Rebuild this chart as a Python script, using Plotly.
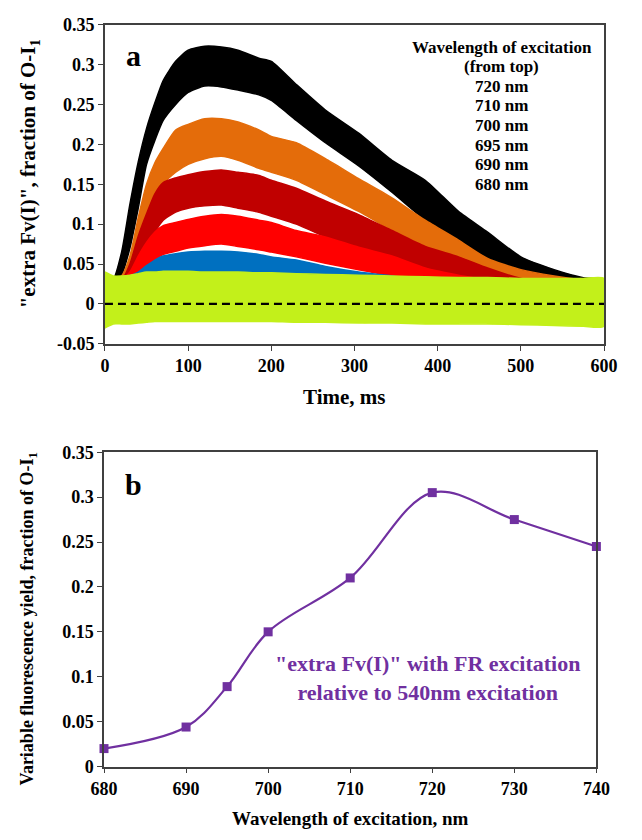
import plotly.graph_objects as go

# ---------------- Panel a: extra Fv(I) transients (envelope of the noisy traces) ----------------
time_ms = [0, 10, 20, 30, 40, 50, 60, 70, 85, 100, 120, 140, 160, 185, 200,
           230, 265, 305, 345, 385, 425, 460, 500, 540, 575, 600]

# 720 nm
fv720_hi = [0.02, 0.03, 0.065, 0.125, 0.178, 0.22, 0.252, 0.28, 0.304, 0.318, 0.323, 0.322, 0.318,
            0.308, 0.304, 0.275, 0.243, 0.214, 0.18, 0.155, 0.116, 0.09, 0.059, 0.043, 0.033, 0.03]
fv720_lo = [-0.03, 0.01, 0.035, 0.07, 0.12, 0.175, 0.205, 0.23, 0.25, 0.265, 0.273, 0.272, 0.268,
            0.262, 0.255, 0.23, 0.202, 0.173, 0.14, 0.105, 0.075, 0.053, 0.035, 0.025, 0.02, 0.02]
# 710 nm
fv710_hi = [0.02, 0.03, 0.035, 0.06, 0.108, 0.15, 0.177, 0.195, 0.218, 0.225, 0.232, 0.232, 0.228,
            0.218, 0.21, 0.202, 0.182, 0.157, 0.133, 0.105, 0.08, 0.057, 0.043, 0.035, 0.03, 0.028]
fv710_lo = [-0.02, 0.01, 0.02, 0.04, 0.065, 0.10, 0.13, 0.15, 0.165, 0.175, 0.182, 0.185, 0.18,
            0.17, 0.165, 0.155, 0.137, 0.116, 0.092, 0.068, 0.05, 0.04, 0.03, 0.025, 0.02, 0.02]
# 700 nm
fv700_hi = [0.02, 0.03, 0.03, 0.05, 0.085, 0.113, 0.138, 0.152, 0.158, 0.162, 0.166, 0.168, 0.165,
            0.161, 0.155, 0.145, 0.129, 0.112, 0.092, 0.072, 0.059, 0.045, 0.032, 0.028, 0.026, 0.025]
fv700_lo = [-0.03, 0.0, 0.02, 0.03, 0.05, 0.07, 0.09, 0.105, 0.115, 0.12, 0.123, 0.124, 0.12,
            0.115, 0.11, 0.1, 0.084, 0.067, 0.052, 0.039, 0.03, 0.02, 0.015, 0.01, 0.01, 0.01]
# 695 nm
fv695_hi = [0.02, 0.03, 0.03, 0.04, 0.06, 0.077, 0.09, 0.098, 0.102, 0.106, 0.11, 0.112, 0.11,
            0.105, 0.102, 0.092, 0.084, 0.071, 0.06, 0.045, 0.036, 0.03, 0.022, 0.02, 0.018, 0.018]
fv695_lo = [-0.02, 0.0, 0.015, 0.025, 0.035, 0.045, 0.055, 0.062, 0.066, 0.07, 0.073, 0.075, 0.072,
            0.068, 0.065, 0.059, 0.051, 0.043, 0.035, 0.025, 0.015, 0.01, 0.005, 0.005, 0.005, 0.005]
# 690 nm
fv690_hi = [0.02, 0.025, 0.03, 0.035, 0.04, 0.048, 0.055, 0.06, 0.063, 0.065, 0.066, 0.066, 0.065,
            0.062, 0.059, 0.055, 0.047, 0.04, 0.035, 0.03, 0.028, 0.025, 0.022, 0.02, 0.02, 0.02]
fv690_lo = [-0.02, -0.018, -0.018, -0.018, -0.017, -0.016, -0.015, -0.015, -0.015, -0.015, -0.015,
            -0.015, -0.015, -0.015, -0.015, -0.016, -0.016, -0.017, -0.017, -0.018, -0.018, -0.02,
            -0.022, -0.022, -0.022, -0.022]
# 680 nm
fv680_hi = [0.04, 0.035, 0.035, 0.036, 0.038, 0.04, 0.04, 0.041, 0.041, 0.041, 0.04, 0.04, 0.04,
            0.039, 0.039, 0.038, 0.037, 0.036, 0.035, 0.034, 0.033, 0.033, 0.032, 0.032, 0.032, 0.032]
fv680_lo = [-0.03, -0.025, -0.025, -0.025, -0.024, -0.023, -0.022, -0.022, -0.022, -0.022, -0.022,
            -0.022, -0.022, -0.022, -0.022, -0.023, -0.023, -0.024, -0.024, -0.025, -0.025, -0.025,
            -0.026, -0.027, -0.028, -0.028]

wavelength_names = ["720 nm", "710 nm", "700 nm", "695 nm", "690 nm", "680 nm"]
trace_colors = ["#000000", "#E46C0A", "#C00000", "#FF0000", "#0070C0", "#C3F01A"]
bands = [(fv720_hi, fv720_lo), (fv710_hi, fv710_lo), (fv700_hi, fv700_lo),
         (fv695_hi, fv695_lo), (fv690_hi, fv690_lo), (fv680_hi, fv680_lo)]
key_lines = ["Wavelength of excitation", "(from top)"] + wavelength_names

# ---------------- Panel b: amplitude vs. excitation wavelength ----------------
excitation_nm = [680, 690, 695, 700, 710, 720, 730, 740]
extra_fv = [0.02, 0.044, 0.089, 0.15, 0.21, 0.305, 0.275, 0.245]

top_yticks = [-0.05, 0, 0.05, 0.1, 0.15, 0.2, 0.25, 0.3, 0.35]
top_yticktext = ["-0.05", "0", "0.05", "0.1", "0.15", "0.2", "0.25", "0.3", "0.35"]
top_xticks = [0, 100, 200, 300, 400, 500, 600]
bot_yticks = [0, 0.05, 0.1, 0.15, 0.2, 0.25, 0.3, 0.35]
bot_yticktext = ["0", "0.05", "0.1", "0.15", "0.2", "0.25", "0.3", "0.35"]
bot_xticks = [680, 690, 700, 710, 720, 730, 740]

W, H = 642, 840
SERIF = "Liberation Serif"
PURPLE = "#7030A0"
AXIS = "#404040"

fig = go.Figure()

for name, color, (hi, lo) in zip(wavelength_names, trace_colors, bands):
    fig.add_trace(go.Scatter(
        x=time_ms + time_ms[::-1], y=hi + lo[::-1],
        mode="lines", fill="toself", fillcolor=color,
        line=dict(color=color, width=1.5, shape="spline", smoothing=0.6), name=name,
        xaxis="x", yaxis="y", hoverinfo="skip", showlegend=False))

# dashed zero baseline
fig.add_trace(go.Scatter(
    x=[time_ms[0], time_ms[-1]], y=[0, 0], mode="lines",
    line=dict(color="black", width=2.2, dash="8px,5px"),
    xaxis="x", yaxis="y", showlegend=False, hoverinfo="skip"))

fig.add_trace(go.Scatter(
    x=excitation_nm, y=extra_fv, mode="lines+markers",
    line=dict(color=PURPLE, width=2.2, shape="spline", smoothing=1.0),
    marker=dict(symbol="square", size=9, color=PURPLE),
    xaxis="x2", yaxis="y2", showlegend=False, cliponaxis=False))


def px_x(p):
    return p / W


def px_y(p):
    return 1 - p / H


tick_font = dict(family=SERIF, size=18, color="black", weight="bold")
axis_common = dict(showline=True, linecolor=AXIS, linewidth=1.5, mirror=True,
                   ticks="outside", ticklen=5, tickcolor=AXIS, tickwidth=1,
                   showgrid=False, zeroline=False, tickfont=tick_font)

fig.update_layout(
    width=W, height=H, margin=dict(l=0, r=0, t=0, b=0),
    paper_bgcolor="white", plot_bgcolor="white",
    xaxis=dict(domain=[px_x(96), px_x(617)], range=[0, 600],
               tickvals=top_xticks, anchor="y", **axis_common),
    yaxis=dict(domain=[px_y(342), px_y(15)], range=[-0.05, 0.35],
               tickvals=top_yticks, ticktext=top_yticktext, anchor="x", **axis_common),
    xaxis2=dict(domain=[px_x(95), px_x(609)], range=[680, 740],
                tickvals=bot_xticks, anchor="y2", **axis_common),
    yaxis2=dict(domain=[px_y(775), px_y(453)], range=[0, 0.35],
                tickvals=bot_yticks, ticktext=bot_yticktext, anchor="x2", **axis_common),
)

bold = dict(family=SERIF, color="black", weight="bold")
annotations = [
    # panel letters
    dict(text="a", x=px_x(126), y=px_y(47), font=dict(**bold, size=30)),
    dict(text="b", x=px_x(126), y=px_y(486), font=dict(**bold, size=30)),
    # axis titles
    dict(text="\"extra Fv(I)\", fraction of O-I<sub>1</sub>", x=px_x(17), y=px_y(168),
         textangle=-90, font=dict(**bold, size=21)),
    dict(text="Time, ms", x=px_x(346), y=px_y(396), font=dict(**bold, size=21)),
    dict(text="Variable fluorescence yield, fraction of O-I<sub>1</sub>", x=px_x(16), y=px_y(624),
         textangle=-90, font=dict(**bold, size=18)),
    dict(text="Wavelength of excitation, nm", x=px_x(352), y=px_y(828), font=dict(**bold, size=19)),
    # description inside panel b
    dict(text="\"extra Fv(I)\" with FR excitation<br>relative to 540nm excitation",
         x=px_x(433), y=px_y(684), align="center",
         font=dict(family=SERIF, size=22, color=PURPLE, weight="bold")),
]
# wavelength key in panel a, one line every 20 px
for i, line in enumerate(key_lines):
    annotations.append(dict(text=line, x=px_x(510), y=px_y(38 + 20.1 * i),
                            font=dict(**bold, size=17)))
for a in annotations:
    a.update(xref="paper", yref="paper", showarrow=False, xanchor="center", yanchor="middle")
fig.update_layout(annotations=annotations)

fig.write_html("out.html")
